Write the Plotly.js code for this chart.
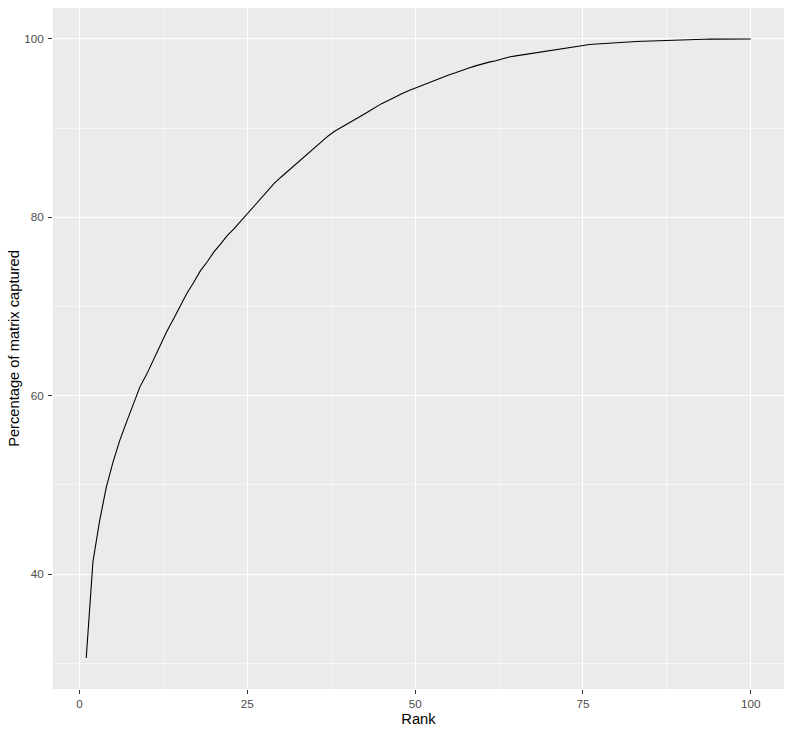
<!DOCTYPE html>
<html>
<head>
<meta charset="utf-8">
<script src="https://cdn.plot.ly/plotly-3.0.1.min.js"></script>
<style>
  html, body { margin: 0; padding: 0; background: #ffffff; }
  #chart { width: 792px; height: 735px; }
</style>
</head>
<body>
<div id="chart"></div>
<script>
// rank of the approximation (1..100)
var ranks = [];
for (var i = 1; i <= 100; i++) ranks.push(i);

// percentage of matrix captured
var captured = [
  30.6, 41.4, 46.0, 49.8, 52.6, 55.0, 57.05, 59.0, 61.0, 62.4,
  64.0, 65.6, 67.2, 68.6, 70.1, 71.5, 72.7, 74.0, 75.0, 76.1,
  77.0, 77.95, 78.7, 79.55, 80.4, 81.3, 82.05, 82.95, 83.8, 84.5,
  85.15, 85.9, 86.5, 87.2, 87.8, 88.5, 89.1, 89.65, 90.07, 90.55,
  91.0, 91.4, 91.85, 92.3, 92.75, 93.1, 93.5, 93.85, 94.2, 94.5,
  94.8, 95.1, 95.4, 95.7, 95.97, 96.2, 96.5, 96.75, 96.98, 97.22,
  97.4, 97.55, 97.78, 97.98, 98.1, 98.22, 98.35, 98.48, 98.58, 98.68,
  98.8, 98.9, 99.0, 99.15, 99.28, 99.37, 99.44, 99.5, 99.55, 99.6,
  99.65, 99.69, 99.72, 99.75, 99.78, 99.82, 99.86, 99.9, 99.92, 99.94,
  99.95, 99.96, 99.97, 99.98, 99.985, 99.99, 99.995, 99.998, 99.999, 100
];

var xTicks = [0, 25, 50, 75, 100];
var yTicks = [40, 60, 80, 100];

var trace = {
  x: ranks,
  y: captured,
  mode: 'lines',
  type: 'scatter',
  line: { color: '#000000', width: 1.1 },
  hoverinfo: 'x+y'
};

// ggplot style 5% expansion
var xSpan = 100 - 1, ySpan = 100 - 30.6;

var layout = {
  width: 792,
  height: 735,
  paper_bgcolor: '#ffffff',
  plot_bgcolor: '#EBEBEB',
  margin: { l: 53, r: 8, t: 8, b: 46 },
  showlegend: false,
  font: { family: 'Liberation Sans, Arial, sans-serif', color: '#000000' },
  xaxis: {
    range: [1 - 0.05 * xSpan, 100 + 0.05 * xSpan],
    tickmode: 'array',
    tickvals: xTicks,
    ticks: 'outside',
    ticklen: 4,
    tickwidth: 1,
    tickcolor: '#333333',
    tickfont: { size: 11.7, color: '#4D4D4D' },
    showgrid: true,
    gridcolor: '#ffffff',
    gridwidth: 1,
    minor: { tickmode: 'array', tickvals: [12.5, 37.5, 62.5, 87.5], showgrid: true, gridcolor: '#ffffff', gridwidth: 0.55 },
    zeroline: false,
    showline: false,
    title: { text: 'Rank', font: { size: 14.7, color: '#000000' }, standoff: 4 }
  },
  yaxis: {
    range: [30.6 - 0.05 * ySpan, 100 + 0.05 * ySpan],
    tickmode: 'array',
    tickvals: yTicks,
    ticks: 'outside',
    ticklen: 4,
    tickwidth: 1,
    tickcolor: '#333333',
    ticklabelstandoff: 2,
    tickfont: { size: 11.7, color: '#4D4D4D' },
    showgrid: true,
    gridcolor: '#ffffff',
    gridwidth: 1,
    minor: { tickmode: 'array', tickvals: [30, 50, 70, 90], showgrid: true, gridcolor: '#ffffff', gridwidth: 0.55 },
    zeroline: false,
    showline: false,
    title: { text: 'Percentage of matrix captured', font: { size: 14.7, color: '#000000' }, standoff: 0 }
  }
};

var config = { responsive: false, displayModeBar: false, staticPlot: true };

Plotly.newPlot('chart', [trace], layout, config);
</script>
</body>
</html>
